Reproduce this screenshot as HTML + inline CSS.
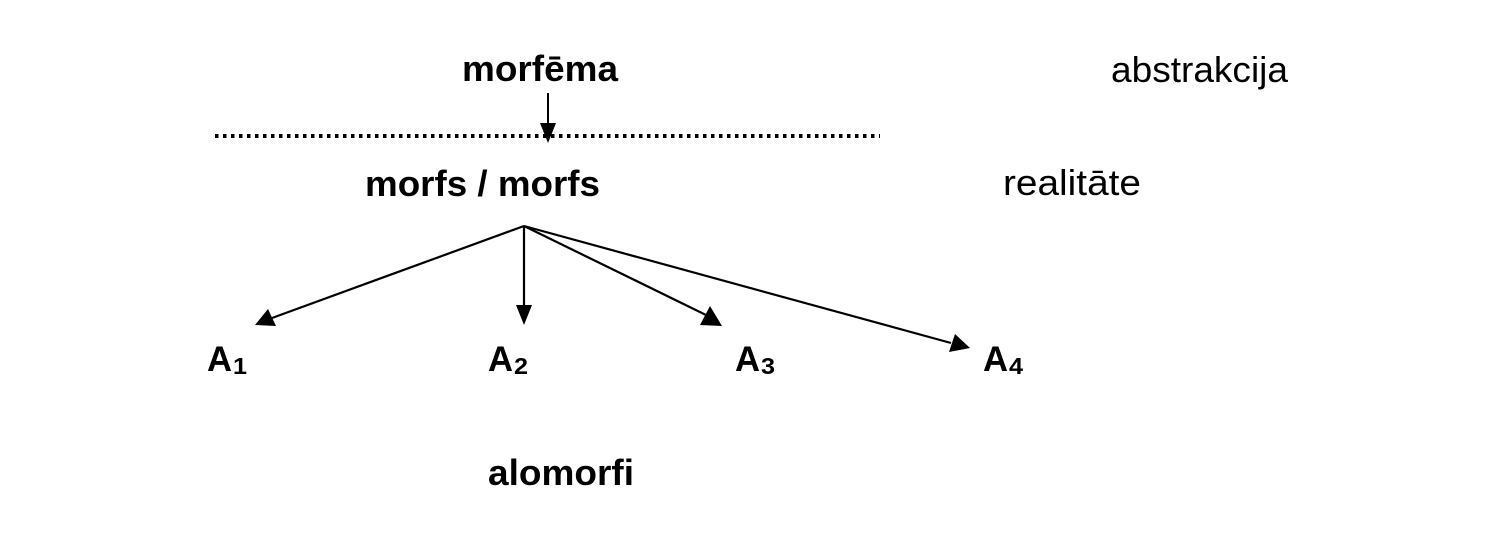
<!DOCTYPE html>
<html><head><meta charset="utf-8"><style>
html,body{margin:0;padding:0;background:#fff}
svg{display:block}
text{font-family:"Liberation Sans",sans-serif;fill:#000}
</style></head><body>
<svg width="1500" height="542" viewBox="0 0 1500 542" xmlns="http://www.w3.org/2000/svg">
<text x="462" y="81" font-size="36" font-weight="bold" textLength="156" lengthAdjust="spacingAndGlyphs">morfēma</text>
<text x="1111" y="82" font-size="36" textLength="177" lengthAdjust="spacingAndGlyphs">abstrakcija</text>
<text x="365" y="196" font-size="36" font-weight="bold" textLength="235" lengthAdjust="spacingAndGlyphs">morfs / morfs</text>
<text x="1003" y="195" font-size="36" textLength="138" lengthAdjust="spacingAndGlyphs">realitāte</text>
<line x1="215" y1="136" x2="880" y2="136" stroke="#000" stroke-width="4" stroke-dasharray="3.5,4.5"/>
<line x1="548" y1="93" x2="548" y2="124" stroke="#000" stroke-width="2"/>
<polygon points="540,123 556,123 548,143" fill="#000"/>
<g stroke="#000" stroke-width="2.2" fill="none">
<line x1="524" y1="226" x2="272" y2="318"/>
<line x1="524" y1="226" x2="524" y2="306"/>
<line x1="524" y1="226" x2="706" y2="315"/>
<line x1="524" y1="226" x2="951" y2="343"/>
</g>
<polygon points="255,325 268,309 276,326" fill="#000"/>
<polygon points="516,305 532,305 524,325" fill="#000"/>
<polygon points="722,326 700,325 710,306" fill="#000"/>
<polygon points="970,348 949,352 955,334" fill="#000"/>
<text x="207" y="371" font-size="35" font-weight="bold" textLength="25" lengthAdjust="spacingAndGlyphs">A</text><text x="233" y="374" font-size="23" font-weight="bold" textLength="14" lengthAdjust="spacingAndGlyphs">1</text>
<text x="488" y="371" font-size="35" font-weight="bold" textLength="25" lengthAdjust="spacingAndGlyphs">A</text><text x="514" y="374" font-size="23" font-weight="bold" textLength="14" lengthAdjust="spacingAndGlyphs">2</text>
<text x="735" y="371" font-size="35" font-weight="bold" textLength="25" lengthAdjust="spacingAndGlyphs">A</text><text x="761" y="374" font-size="23" font-weight="bold" textLength="14" lengthAdjust="spacingAndGlyphs">3</text>
<text x="983" y="371" font-size="35" font-weight="bold" textLength="25" lengthAdjust="spacingAndGlyphs">A</text><text x="1009" y="374" font-size="23" font-weight="bold" textLength="14" lengthAdjust="spacingAndGlyphs">4</text>
<text x="488" y="485" font-size="36" font-weight="bold" textLength="146" lengthAdjust="spacingAndGlyphs">alomorfi</text>
</svg>
</body></html>
